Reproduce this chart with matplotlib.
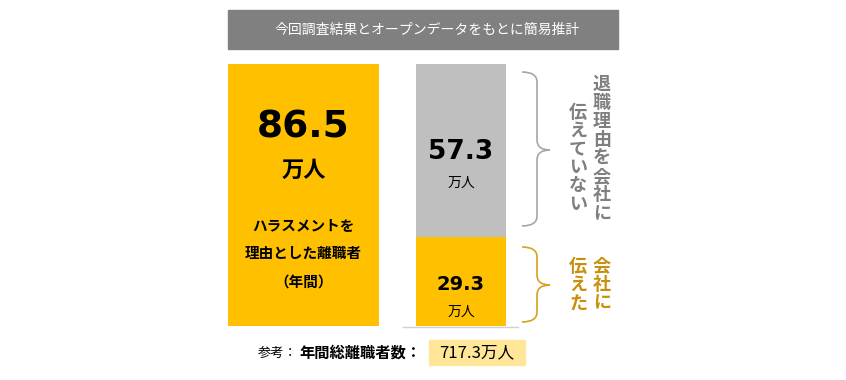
import numpy as np
import matplotlib.pyplot as plt
from matplotlib.path import Path
from matplotlib.patches import PathPatch, Rectangle

plt.rcParams['font.family'] = ['Noto Sans CJK JP', 'DejaVu Sans']

# data (万人)
harassment_total = 86.5
told = 29.3
not_told = 57.3
annual_total = 717.3

yellow = '#FFC000'
gray_bar = '#BFBFBF'
gray_txt = '#7F7F7F'
gold = '#C8900A'

W, H = 846, 380
fig = plt.figure(figsize=[W / 100, H / 100], dpi=100)

# bar axes: baseline at y=326 px, 86.5 -> 262 px
base_px = 326
scale = 262 / harassment_total
ax = fig.add_axes([0, (H - base_px) / H, 1, scale * 100 / H])
ax.set_xlim(0, W)
ax.set_ylim(0, 100)
ax.axis('off')

ax.bar(303.5, harassment_total, width=151, color=yellow)
ax.bar(461, told, width=90, color=yellow)
ax.bar(461, not_told, width=90, bottom=told, color=gray_bar)

# overlay in pixel coordinates
ov = fig.add_axes([0, 0, 1, 1], facecolor='none')
ov.set_xlim(0, W)
ov.set_ylim(H, 0)
ov.axis('off')

# header
ov.add_patch(Rectangle((228, 10), 390, 39, color='#808080'))
ov.text(427, 29.5, '今回調査結果とオープンデータをもとに簡易推計', color='white',
        fontsize=10, ha='center', va='center')

# baseline under right bar
ov.plot([403, 518], [326.5, 326.5], color='#D0D0D0', lw=1)

# left block text
ov.text(303.5, 128, f'{harassment_total:.1f}', family='DejaVu Sans', fontsize=27,
        fontweight='bold', ha='center', va='center')
ov.text(303.5, 170, '万人', fontsize=16, fontweight='bold', ha='center', va='center')
for y, s in zip([225, 253, 282], ['ハラスメントを', '理由とした離職者', '（年間）']):
    ov.text(303.5, y, s, fontsize=10.5, fontweight='bold', ha='center', va='center')

# right bar labels
ov.text(461, 152, f'{not_told:.1f}', family='DejaVu Sans', fontsize=19,
        fontweight='bold', ha='center', va='center')
ov.text(461, 183, '万人', fontsize=10, ha='center', va='center')
ov.text(461, 285, f'{told:.1f}', family='DejaVu Sans', fontsize=14,
        fontweight='bold', ha='center', va='center')
ov.text(461, 312, '万人', fontsize=10, ha='center', va='center')


def brace(x0, xm, x1, ytop, ymid, ybot, color):
    r = 10
    verts = [(x0, ytop), (xm, ytop), (xm, ytop + r),
             (xm, ymid - r), (xm, ymid), (x1, ymid),
             (xm, ymid), (xm, ymid + r),
             (xm, ybot - r), (xm, ybot), (x0, ybot)]
    codes = [Path.MOVETO, Path.CURVE3, Path.CURVE3,
             Path.LINETO, Path.CURVE3, Path.CURVE3,
             Path.CURVE3, Path.CURVE3,
             Path.LINETO, Path.CURVE3, Path.CURVE3]
    ov.add_patch(PathPatch(Path(verts, codes), fill=False, edgecolor=color, lw=1.2))


brace(522, 537, 550, 72, 150, 226, '#A6A6A6')
brace(522, 537, 550, 247, 285, 322, '#D6A21E')


def vtext(x, y0, s, color, pitch=18.5):
    for i, ch in enumerate(s):
        ov.text(x, y0 + i * pitch, ch, color=color, fontsize=13, fontweight='bold',
                ha='center', va='center')


vtext(602, 84, '退職理由を会社に', gray_txt)
vtext(578, 112, '伝えていない', gray_txt)
vtext(602, 266, '会社に', gold)
vtext(578, 266, '伝えた', gold)

# footer
ov.text(258, 353, '参考：', fontsize=9.5, ha='left', va='center')
ov.text(299, 353, '年間総離職者数：', fontsize=11, fontweight='bold', ha='left', va='center')
ov.add_patch(Rectangle((429, 340), 96, 25, color='#FFE699'))
ov.text(477, 352.5, f'{annual_total:.1f}万人', fontsize=12, ha='center', va='center')

fig.savefig('out.png', dpi=100)
